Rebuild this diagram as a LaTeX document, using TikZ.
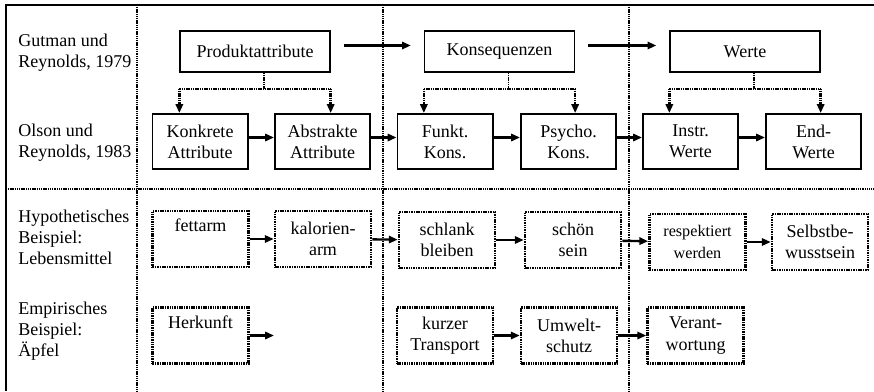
\documentclass[tikz,border=0pt]{standalone}
\usepackage{fontspec}
\setmainfont{Liberation Serif}
\usetikzlibrary{arrows.meta}

\begin{document}
\begin{tikzpicture}[x=0.025cm,y=-0.025cm]
	\tikzstyle{every node}+=[inner sep=0pt,align=center,font=\fontsize{12.8}{15}\selectfont]
	\tikzstyle{oben}=[draw=black,line width=0.9pt,minimum width=3.75cm,minimum height=1.025cm]
	\tikzstyle{mitte}=[draw=black,line width=1.4pt,minimum width=2.375cm,minimum height=1.375cm]
	\tikzstyle{bsp}=[draw=black,line width=1.8pt,dash pattern=on 1.1pt off 0.6pt,minimum width=2.4cm,minimum height=1.4cm]
	\tikzstyle{zeile}=[anchor=west,align=left]
	\tikzstyle{pfeil}=[-{Triangle[length=2.2mm,width=1.8mm]},line width=1.7pt]
	\tikzstyle{verbind}=[line width=1.4pt,dash pattern=on 1pt off 0.6pt]
	\tikzstyle{trenn}=[line width=0.8pt,dash pattern=on 0.8pt off 0.5pt]
	\useasboundingbox (0,0) rectangle (874,391);
	\draw [black,line width=1.5pt] (6,391) -- (6,5) -- (874,5);
	\draw [trenn] (137,5) -- (137,391);
	\draw [trenn] (383,5) -- (383,391);
	\draw [trenn] (629,5) -- (629,391);
	\draw [trenn] (6,189) -- (874,189);
	\node [zeile] (gr) at (18,52.5) {Gutman und\\Reynolds, 1979};
	\node [zeile] (or) at (18,143) {Olson und\\Reynolds, 1983};
	\node [zeile] (hb) at (18,237) {Hypothetisches\\Beispiel:\\Lebensmittel};
	\node [zeile] (eb) at (18,331) {Empirisches\\Beispiel:\\Äpfel};
	\node [oben] (prod) at (255,51.5) {Produktattribute};
	\node [oben] (kons) at (499.5,51.5) {Konsequenzen};
	\node [oben] (werte) at (745,51.5) {Werte};
	\draw [pfeil] ([shift={(13,-6)}]prod.east) -- ([shift={(-13,-6)}]kons.west);
	\draw [pfeil] ([shift={(13,-6)}]kons.east) -- ([shift={(-13,-6)}]werte.west);
	\node [mitte] (ka) at (200,141.5) {Konkrete\\Attribute};
	\node [mitte] (aa) at (322.5,141.5) {Abstrakte\\Attribute};
	\node [mitte] (fk) at (445,141.5) {Funkt.\\Kons.};
	\node [mitte] (pk) at (568.5,141.5) {Psycho.\\Kons.};
	\node [mitte] (iw) at (690.5,141.5) {Instr.\\Werte};
	\node [mitte] (ew) at (813.5,141.5) {End-\\Werte};
	\draw [pfeil] ([shift={(0,-4)}]ka.east) -- ([shift={(0,-4)}]aa.west);
	\draw [pfeil] ([shift={(0,-4)}]aa.east) -- ([shift={(0,-4)}]fk.west);
	\draw [pfeil] ([shift={(0,-4)}]fk.east) -- ([shift={(0,-4)}]pk.west);
	\draw [pfeil] ([shift={(0,-4)}]pk.east) -- ([shift={(0,-4)}]iw.west);
	\draw [pfeil] ([shift={(0,-4)}]iw.east) -- ([shift={(0,-4)}]ew.west);
	\draw [verbind] ([shift={(9,0)}]prod.south) -- ++(0,16) coordinate (p1);
	\draw [verbind] (p1 -| prod.west) -- (p1 -| prod.east);
	\draw [verbind,pfeil] (p1 -| prod.west) -- (ka.north -| prod.west);
	\draw [verbind,pfeil] (p1 -| prod.east) -- (aa.north -| prod.east);
	\draw [verbind] ([shift={(9,0)}]kons.south) -- ++(0,16) coordinate (p2);
	\draw [verbind] (p2 -| kons.west) -- (p2 -| kons.east);
	\draw [verbind,pfeil] (p2 -| kons.west) -- (fk.north -| kons.west);
	\draw [verbind,pfeil] (p2 -| kons.east) -- (pk.north -| kons.east);
	\draw [verbind] ([shift={(9,0)}]werte.south) -- ++(0,16) coordinate (p3);
	\draw [verbind] (p3 -| werte.west) -- (p3 -| werte.east);
	\draw [verbind,pfeil] (p3 -| werte.west) -- (iw.north -| werte.west);
	\draw [verbind,pfeil] (p3 -| werte.east) -- (ew.north -| werte.east);
	\node [bsp] (fett) at (200.5,239) {fettarm\\\strut};
	\node [bsp] (kal) at (323,239) {kalorien-\\arm};
	\node [bsp] (schl) at (447,240) {schlank\\bleiben};
	\node [bsp] (schoen) at (573,240) {schön\\sein};
	\node [bsp,font=\fontsize{11.5}{15}\selectfont] (resp) at (697.5,242) {respektiert\\werden};
	\node [bsp] (selbst) at (820,242) {Selbstbe-\\wusstsein};
	\draw [pfeil] (fett) -- (kal);
	\draw [pfeil] (kal) -- (schl);
	\draw [pfeil] (schl) -- (schoen);
	\draw [pfeil] (schoen) -- (resp);
	\draw [pfeil] (resp) -- (selbst);
	\node [bsp] (herk) at (200.5,335.5) {Herkunft\\\strut};
	\node [bsp] (kurz) at (445,335.5) {kurzer\\Transport};
	\node [bsp] (umw) at (569,335.5) {Umwelt-\\schutz};
	\node [bsp] (verant) at (695.5,335.5) {Verant-\\wortung};
	\coordinate (hende) at (274,335.5);
	\draw [pfeil] (herk) -- (hende);
	\draw [pfeil] (kurz) -- (umw);
	\draw [pfeil] (umw) -- (verant);
\end{tikzpicture}
\end{document}
